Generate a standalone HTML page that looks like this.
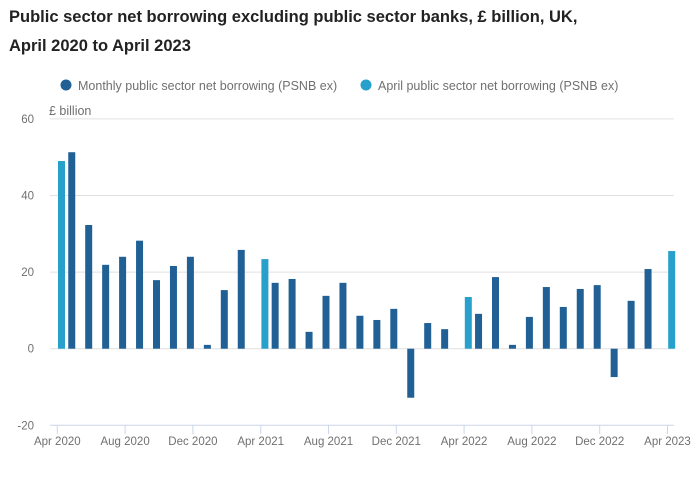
<!DOCTYPE html>
<html><head><meta charset="utf-8"><style>
body{margin:0;background:#fff;font-family:"Liberation Sans",sans-serif;}
.t{position:absolute;left:9px;font-size:16.5px;font-weight:bold;color:#222;}
</style></head><body>
<div style="position:relative;width:696px;height:477px;overflow:hidden">
<div class="t" style="top:8px">Public sector net borrowing excluding public sector banks, £ billion, UK,</div>
<div class="t" style="top:37px">April 2020 to April 2023</div>
<svg id="svg" width="696" height="477" style="position:absolute;left:0;top:0" font-family="Liberation Sans, sans-serif">
<g>
<g><circle cx="66" cy="85" r="5.5" fill="#206095"/><text x="78" y="90" font-size="12.5" fill="#707070">Monthly public sector net borrowing (PSNB ex)</text></g>
<g><circle cx="366" cy="85" r="5.5" fill="#27a0cc"/><text x="378" y="90" font-size="12.5" fill="#707070">April public sector net borrowing (PSNB ex)</text></g>
</g>
<text x="49" y="115" font-size="12.5" fill="#707070">£ billion</text>
</svg>
</div>
<script>
const months=["Apr 2020","May 2020","Jun 2020","Jul 2020","Aug 2020","Sep 2020","Oct 2020","Nov 2020","Dec 2020","Jan 2021","Feb 2021","Mar 2021","Apr 2021","May 2021","Jun 2021","Jul 2021","Aug 2021","Sep 2021","Oct 2021","Nov 2021","Dec 2021","Jan 2022","Feb 2022","Mar 2022","Apr 2022","May 2022","Jun 2022","Jul 2022","Aug 2022","Sep 2022","Oct 2022","Nov 2022","Dec 2022","Jan 2023","Feb 2023","Mar 2023","Apr 2023"];
const monthlyValues=[null,51.3,32.3,21.9,24.0,28.2,17.9,21.6,24.0,1.0,15.3,25.8,null,17.2,18.2,4.4,13.8,17.2,8.6,7.5,10.4,-12.8,6.7,5.1,null,9.1,18.7,1.0,8.3,16.1,10.9,15.6,16.6,-7.4,12.5,20.8,null];
const aprilValues=[49.0,null,null,null,null,null,null,null,null,null,null,null,23.4,null,null,null,null,null,null,null,null,null,null,null,13.5,null,null,null,null,null,null,null,null,null,null,null,25.5];
const yTicks=[60,40,20,0,-20];
const xTickLabels=["Apr 2020","Aug 2020","Dec 2020","Apr 2021","Aug 2021","Dec 2021","Apr 2022","Aug 2022","Dec 2022","Apr 2023"];

const svg=document.getElementById('svg');const NS='http://www.w3.org/2000/svg';
const y0=348.7,pxu=3.83;
const y=v=>y0-v*pxu;
const x=i=>57.3+i*16.95;
function mk(t,a){const e=document.createElementNS(NS,t);for(const k in a)e.setAttribute(k,a[k]);svg.appendChild(e);return e;}
yTicks.forEach(v=>{
 if(v!==-20){const g=mk('line',{x1:50,x2:674,y1:y(v),y2:y(v),stroke:'#e0e0e0','stroke-width':1});
 
 }
 const t=mk('text',{x:34,y:y(v)+4,'text-anchor':'end','font-size':11.5,fill:'#707070'});t.textContent=v;
 
 
});
const ax=mk('line',{x1:50,x2:674,y1:425.3,y2:425.3,stroke:'#ccd6eb','stroke-width':1});


xTickLabels.forEach(l=>{const i=months.indexOf(l);
 const tk=mk('line',{x1:x(i),x2:x(i),y1:425,y2:434,stroke:'#ccd6eb'});
 
 
 const t=mk('text',{x:x(i),y:445,'text-anchor':'middle','font-size':11.5,fill:'#707070'});t.textContent=l;
 
 
});
monthlyValues.forEach((v,i)=>{if(v==null)return;
 const r=mk('rect',{x:x(i)-6,width:7,y:Math.min(y(v),y0),height:Math.abs(y(v)-y0),fill:'#206095'});
 
 
});
aprilValues.forEach((v,i)=>{if(v==null)return;
 const r=mk('rect',{x:x(i)+0.7,width:7,y:Math.min(y(v),y0),height:Math.abs(y(v)-y0),fill:'#27a0cc'});
 
 
});
</script>
</body></html>
